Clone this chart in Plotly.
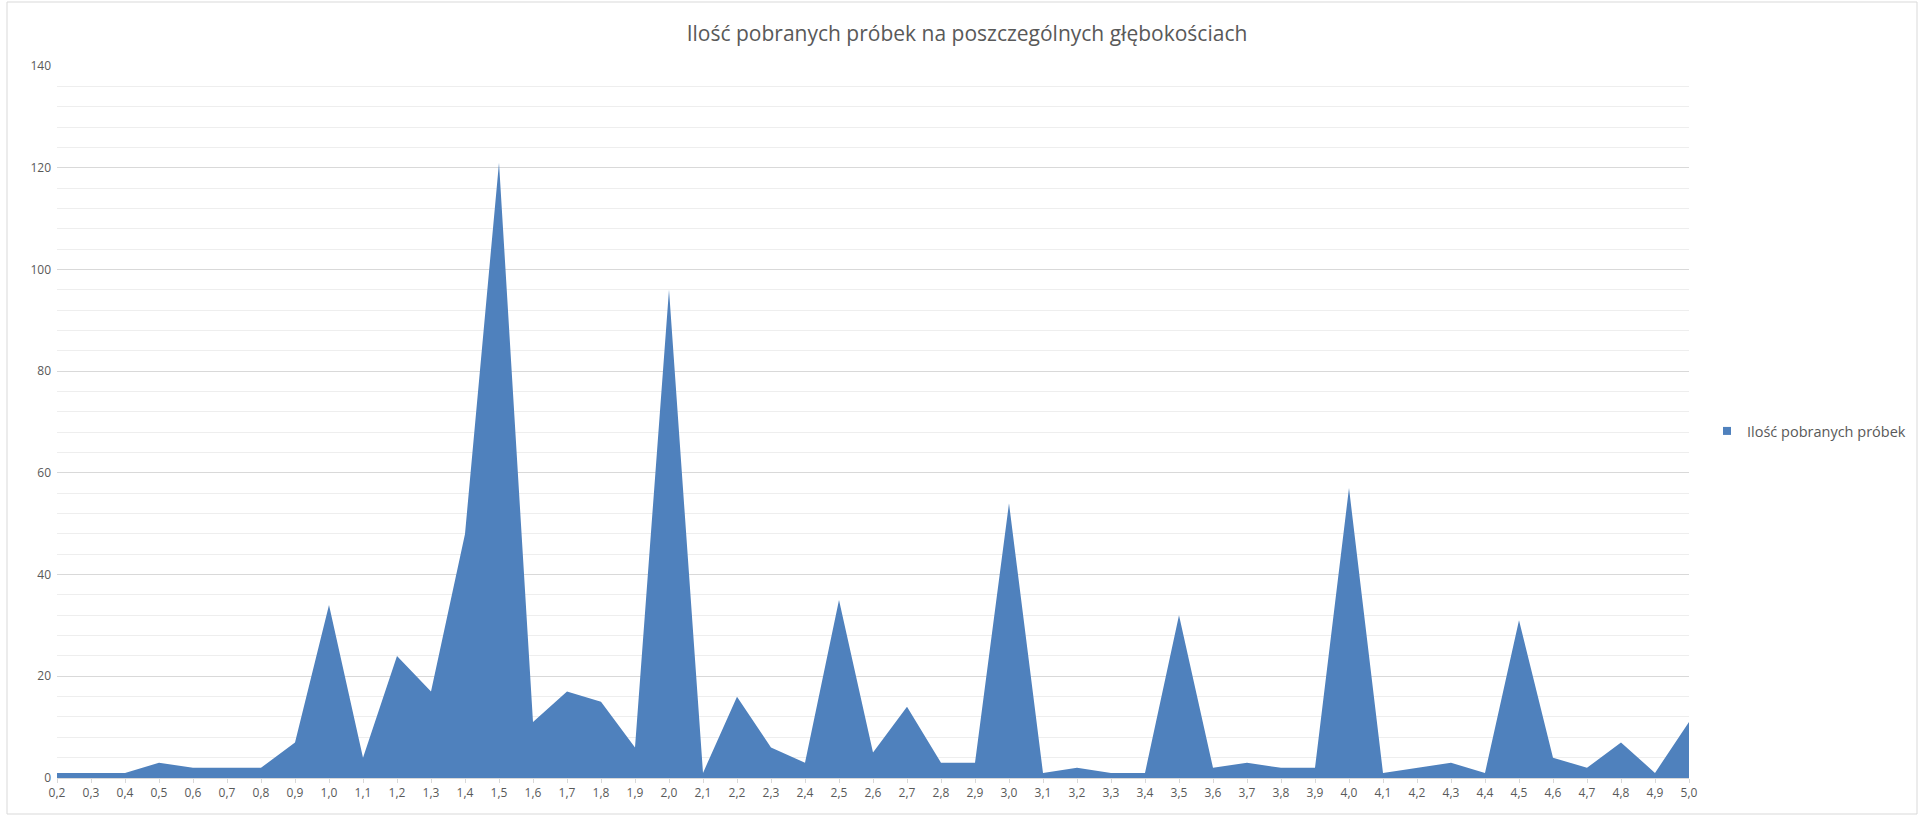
import plotly.graph_objects as go

# Sampling depths (m) and number of samples taken at each depth
depths = ["0,2", "0,3", "0,4", "0,5", "0,6", "0,7", "0,8", "0,9", "1,0", "1,1",
          "1,2", "1,3", "1,4", "1,5", "1,6", "1,7", "1,8", "1,9", "2,0", "2,1",
          "2,2", "2,3", "2,4", "2,5", "2,6", "2,7", "2,8", "2,9", "3,0", "3,1",
          "3,2", "3,3", "3,4", "3,5", "3,6", "3,7", "3,8", "3,9", "4,0", "4,1",
          "4,2", "4,3", "4,4", "4,5", "4,6", "4,7", "4,8", "4,9", "5,0"]
sample_counts = [1, 1, 1, 3, 2, 2, 2, 7, 34, 4,
                 24, 17, 48, 121, 11, 17, 15, 6, 96, 1,
                 16, 6, 3, 35, 5, 14, 3, 3, 54, 1,
                 2, 1, 1, 32, 2, 3, 2, 2, 57, 1,
                 2, 3, 1, 31, 4, 2, 7, 1, 11]

series_name = "Ilość pobranych próbek"
chart_title = "Ilość pobranych próbek na poszczególnych głębokościach"
y_ticks = [0, 20, 40, 60, 80, 100, 120, 140]

AREA_BLUE = "#4F81BD"
TEXT_GRAY = "#595959"
FONT = "'Open Sans', Lato, sans-serif"

fig = go.Figure()

fig.add_trace(go.Scatter(
    x=depths, y=sample_counts,
    mode="lines", fill="tozeroy",
    line=dict(width=0, color=AREA_BLUE),
    fillcolor=AREA_BLUE,
    showlegend=False,
    hoverinfo="x+y",
))

# legend entry drawn as a small square swatch
fig.add_trace(go.Scatter(
    x=[None], y=[None], mode="markers",
    marker=dict(symbol="square", size=8, color=AREA_BLUE),
    name=series_name, showlegend=True,
))

L, R, T, B = 57, 235, 66, 38
W, H = 1924, 816
pw, ph = W - L - R, H - T - B

def px_to_paper_x(px):
    return (px - L) / pw

def px_to_paper_y(py):
    return (H - B - py) / ph

fig.update_layout(
    width=W, height=H,
    margin=dict(l=L, r=R, t=T, b=B, pad=0),
    paper_bgcolor="white",
    plot_bgcolor="white",
    font=dict(family=FONT, color=TEXT_GRAY, size=12),
    title=dict(
        text=chart_title,
        x=px_to_paper_x(967), xref="paper", xanchor="center",
        y=1 - 34 / H, yref="container", yanchor="middle",
        font=dict(size=21, color=TEXT_GRAY, family=FONT),
    ),
    legend=dict(
        x=px_to_paper_x(1707), xanchor="left",
        y=px_to_paper_y(431), yanchor="middle",
        font=dict(size=14.5, color=TEXT_GRAY, family=FONT),
        bgcolor="rgba(0,0,0,0)",
        itemwidth=30,
    ),
    xaxis=dict(
        type="category",
        range=[0, len(depths) - 1],
        showgrid=False,
        showline=True, linecolor="#d9d9d9", linewidth=1,
        ticks="outside", ticklen=4, tickcolor="#d9d9d9",
        tickfont=dict(size=12, color=TEXT_GRAY),
        zeroline=False,
        fixedrange=True,
    ),
    yaxis=dict(
        range=[0, 140],
        tickvals=y_ticks,
        showgrid=True, gridcolor="#d9d9d9", gridwidth=1,
        minor=dict(dtick=4, showgrid=True, gridcolor="#eeeeee", gridwidth=1),
        zeroline=False,
        showline=False,
        ticks="",
        ticklabelstandoff=5,
        tickfont=dict(size=12, color=TEXT_GRAY),
        fixedrange=True,
    ),
    shapes=[
        dict(type="rect", xref="paper", yref="paper",
             x0=px_to_paper_x(7), x1=px_to_paper_x(1917),
             y0=px_to_paper_y(814), y1=px_to_paper_y(2),
             line=dict(color="#d9d9d9", width=1),
             fillcolor="rgba(0,0,0,0)", layer="below"),
    ],
)

fig.write_html("out.html")
